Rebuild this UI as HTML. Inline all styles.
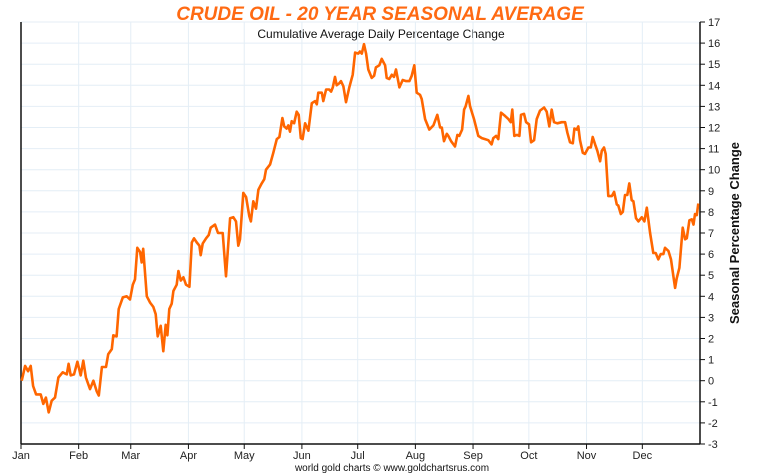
<!DOCTYPE html>
<html><head><meta charset="utf-8"><style>
body{margin:0;background:#fff;}
svg{display:block;font-family:"Liberation Sans",sans-serif;}
</style></head><body>
<svg id="chart" width="760" height="475">
<text x="380" y="20" text-anchor="middle" font-size="19" font-weight="bold" font-style="italic" fill="#ff6a13">CRUDE OIL - 20 YEAR SEASONAL AVERAGE</text>
<text x="381" y="38" text-anchor="middle" font-size="12" fill="#111">Cumulative Average Daily Percentage Change</text>
<g id="grid"></g>
<g id="axes"></g>
<path id="series" fill="none" stroke="#ff6600" stroke-width="2.6" stroke-linejoin="round"/>
<text transform="translate(739,233) rotate(-90)" text-anchor="middle" font-size="13" font-weight="bold" fill="#111">Seasonal Percentage Change</text>
<text x="392" y="471" text-anchor="middle" font-size="10" fill="#111">world gold charts © www.goldchartsrus.com</text>
</svg>
<script>
const monthLabels=["Jan","Feb","Mar","Apr","May","Jun","Jul","Aug","Sep","Oct","Nov","Dec"];
const monthStartDays=[0,31,59,90,120,151,181,212,243,273,304,334];
const yTicks=[-3,-2,-1,0,1,2,3,4,5,6,7,8,9,10,11,12,13,14,15,16,17];
const days=[0.4,2.2,3.8,5.2,6.5,8.1,10.6,12.0,13.4,14.9,16.5,18.3,20.1,22.4,24.6,25.6,26.7,28.5,30.3,32.1,33.5,34.9,37.1,38.9,40.7,41.8,43.5,45.7,46.9,48.8,49.6,51.4,52.5,54.7,56.8,58.6,60.1,61.3,62.5,64.0,64.9,65.7,67.6,69.4,71.1,72.4,73.5,75.1,76.5,77.8,78.7,79.7,81.0,81.9,83.7,84.6,85.9,87.3,88.7,90.5,91.8,93.0,94.5,95.9,96.6,97.7,99.5,100.9,102.0,104.3,105.9,108.4,110.2,112.4,114.1,115.6,116.8,117.7,119.5,121.0,122.7,123.6,124.9,126.3,127.6,129.4,130.8,131.7,133.9,135.6,137.5,138.9,140.5,141.5,142.8,143.7,144.6,145.5,146.8,148.2,149.3,150.4,151.4,152.7,154.5,156.3,158.1,159.0,159.8,161.7,162.5,164.0,165.7,166.7,167.6,168.8,169.7,171.1,172.0,173.3,174.7,176.5,178.3,179.6,181.3,182.2,183.2,184.4,185.5,186.7,188.5,189.8,190.8,192.6,193.9,195.7,196.6,198.0,199.3,200.5,201.6,203.4,205.2,207.0,208.8,210.0,211.4,212.7,214.5,215.4,217.2,219.5,221.7,223.8,225.3,226.2,227.4,228.9,229.7,231.2,233.3,234.6,235.6,237.1,238.2,239.0,240.5,241.4,243.5,245.8,247.7,249.4,251.2,253.0,253.9,255.4,256.6,258.0,260.2,262.0,263.3,264.1,265.2,266.5,267.9,268.8,270.4,271.5,273.1,274.2,275.8,277.2,279.0,281.2,282.6,284.0,285.3,286.5,288.3,290.7,292.5,293.7,295.1,296.6,297.5,298.7,299.6,300.5,302.0,303.2,305.0,306.3,307.3,308.6,309.8,311.3,312.2,313.4,314.3,315.7,317.6,318.8,320.3,321.1,322.4,323.5,324.7,325.9,327.0,328.3,329.2,330.6,331.9,333.7,335.1,336.4,338.2,339.9,341.2,342.6,343.9,345.3,346.2,348.0,349.4,350.7,351.6,352.5,353.9,355.7,357.0,357.9,359.3,360.6,361.5,362.3,363.3,364.1];
const values=[0.0,0.7,0.45,0.7,-0.25,-0.65,-0.65,-1.1,-0.8,-1.5,-0.95,-0.8,0.15,0.4,0.3,0.8,0.25,0.3,0.9,0.25,0.95,0.15,-0.4,0.0,-0.5,-0.7,0.65,0.65,1.25,1.5,2.15,2.1,3.4,3.95,4.0,3.85,4.55,4.8,6.3,6.1,5.6,6.25,4.0,3.7,3.5,3.15,2.1,2.6,1.4,2.65,2.15,3.4,3.65,4.25,4.55,5.2,4.75,4.9,4.55,4.45,6.55,6.75,6.55,6.4,5.95,6.5,6.75,6.9,7.25,7.4,7.0,7.0,4.95,7.7,7.75,7.55,6.4,6.7,8.9,8.7,7.8,7.55,8.5,8.15,9.05,9.35,9.55,10.0,10.25,10.8,11.45,11.55,12.45,12.05,11.95,12.1,11.8,12.3,12.2,12.75,12.6,11.5,11.45,12.2,11.85,13.15,13.25,13.1,13.65,13.65,13.25,13.8,13.8,13.7,13.9,14.4,14.0,14.1,14.2,13.95,13.2,13.9,14.5,15.55,15.5,15.6,15.5,15.95,15.5,14.75,14.35,14.45,14.85,14.95,15.25,14.95,14.35,14.3,14.5,14.4,14.75,13.9,14.25,14.2,14.2,14.45,14.95,13.65,13.55,13.35,12.4,11.9,12.1,12.6,12.0,12.0,11.35,11.7,11.6,11.35,11.1,11.65,11.6,11.9,12.85,13.0,13.5,13.0,12.4,11.6,11.5,11.45,11.4,11.2,11.5,11.6,11.45,12.7,12.55,12.4,12.25,12.85,11.6,11.65,11.6,12.6,12.65,12.25,12.15,11.3,11.4,12.4,12.8,12.95,12.75,12.05,12.85,12.25,12.2,12.25,12.25,11.75,11.3,11.25,11.95,11.9,12.05,11.4,10.8,10.75,11.05,11.05,11.55,11.2,10.9,10.4,10.9,11.05,10.75,8.75,8.75,8.95,8.35,8.3,7.9,8.0,8.8,8.8,9.35,8.55,8.5,7.7,7.55,7.75,7.55,8.2,7.0,6.05,6.05,5.75,6.0,6.0,6.3,6.15,5.75,4.95,4.4,4.85,5.35,7.25,6.7,6.75,7.6,7.65,7.4,7.9,7.85,8.4];

const X0=21,X1=700,Y0=444,Y1=22,VMIN=-3,VMAX=17;
const xs=d=>X0+d*(X1-X0)/365;
const ys=v=>Y0-(v-VMIN)*(Y0-Y1)/(VMAX-VMIN);
const NS="http://www.w3.org/2000/svg";
const grid=document.getElementById('grid'),axes=document.getElementById('axes');
function mk(tag,attrs,parent){const e=document.createElementNS(NS,tag);for(const k in attrs)e.setAttribute(k,attrs[k]);parent.appendChild(e);return e;}
yTicks.forEach(t=>{
  const y=ys(t);
  const g=mk('line',{x1:X0,x2:X1,y1:y,y2:y,stroke:'#e4eef6','stroke-width':1},grid);
  
  
  const tk=mk('line',{x1:X1,x2:X1+5,y1:y,y2:y,stroke:'#111','stroke-width':1},axes);
  
  
  const tx=mk('text',{x:X1+8,y:y+4,'font-size':11,fill:'#222'},axes);
  tx.textContent=t;
  
  
});
monthStartDays.forEach((d,i)=>{
  const x=xs(d);
  const g=mk('line',{x1:x,x2:x,y1:Y1,y2:Y0,stroke:'#e4eef6','stroke-width':1},grid);
  
  
  const tk=mk('line',{x1:x,x2:x,y1:Y0,y2:Y0+5,stroke:'#111','stroke-width':1},axes);
  
  
  const tx=mk('text',{x:x,y:Y0+15,'font-size':11,fill:'#222','text-anchor':'middle'},axes);
  tx.textContent=monthLabels[i];
  
  
});
const la=mk('line',{x1:X0,x2:X0,y1:Y1,y2:Y0,stroke:'#111','stroke-width':1.5},axes);


const ra=mk('line',{x1:X1,x2:X1,y1:Y1,y2:Y0,stroke:'#111','stroke-width':1.5},axes);


const ba=mk('line',{x1:X0,x2:X1,y1:Y0,y2:Y0,stroke:'#111','stroke-width':1.5},axes);


document.getElementById('series').setAttribute('d',days.map((d,i)=>(i?'L':'M')+xs(d).toFixed(1)+','+ys(values[i]).toFixed(1)).join(''));
</script>
</body></html>
